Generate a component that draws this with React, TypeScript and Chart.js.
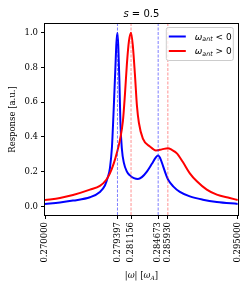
import React, { useEffect, useRef } from "react";
import { Chart, registerables } from "chart.js";

Chart.register(...registerables);

// |omega| in units of omega_A, and normalised response
const omegaBlue = [
  0.27, 0.27194, 0.27363, 0.27583, 0.27712, 0.27777, 0.27816, 0.27842, 0.27868, 0.27887,
  0.279, 0.27913, 0.27926, 0.279397, 0.27952, 0.27965, 0.27978, 0.27997, 0.28023, 0.28062,
  0.28101, 0.28153, 0.28205, 0.28256, 0.28321, 0.28386, 0.28438, 0.284673, 0.28496, 0.28532,
  0.28567, 0.28597, 0.28662, 0.28749, 0.28878, 0.29047, 0.29228, 0.295,
];
const responseBlue = [
  0.014, 0.022, 0.033, 0.052, 0.083, 0.12, 0.17, 0.22, 0.34, 0.52,
  0.66, 0.8, 0.94, 1.0, 0.9, 0.72, 0.48, 0.33, 0.25, 0.2,
  0.178, 0.162, 0.157, 0.168, 0.2, 0.245, 0.282, 0.293, 0.275, 0.23,
  0.185, 0.153, 0.115, 0.083, 0.057, 0.038, 0.025, 0.014,
];
const omegaRed = [
  0.27, 0.27194, 0.27363, 0.27583, 0.27712, 0.2779, 0.27842, 0.27894, 0.27933, 0.27971,
  0.2801, 0.28036, 0.28062, 0.28088, 0.281156, 0.2814, 0.28166, 0.28192, 0.28218, 0.28269,
  0.2836, 0.28438, 0.28515, 0.28593, 0.28645, 0.2871, 0.28788, 0.28878, 0.28969, 0.29098,
  0.29228, 0.29396, 0.295,
];
const responseRed = [
  0.036, 0.048, 0.065, 0.096, 0.118, 0.15, 0.19, 0.25, 0.31, 0.38,
  0.49, 0.64, 0.82, 0.95, 1.0, 0.92, 0.76, 0.58, 0.48, 0.39,
  0.345, 0.322, 0.328, 0.335, 0.325, 0.305, 0.255, 0.19, 0.144, 0.096,
  0.067, 0.048, 0.036,
];
const peaksBlue = [0.279397, 0.284673];
const peaksRed = [0.281156, 0.28593];
const xTickValues = [0.27, 0.279397, 0.281156, 0.284673, 0.28593, 0.295];
const yTickValues = [0, 0.2, 0.4, 0.6, 0.8, 1.0];
const xRange = [0.27, 0.295];
const yRange = [-0.05, 1.05];

const SERIF = '"DejaVu Serif", serif';
const SANS = '"DejaVu Sans", sans-serif';

function drawRich(ctx: CanvasRenderingContext2D, parts: { t: string; f: string; dy?: number }[], x: number, y: number, align: "left" | "center") {
  let w = 0;
  for (const p of parts) { ctx.font = p.f; w += ctx.measureText(p.t).width; }
  let cx = align === "center" ? x - w / 2 : x;
  ctx.textAlign = "left";
  for (const p of parts) {
    ctx.font = p.f;
    ctx.fillText(p.t, cx, y + (p.dy || 0));
    cx += ctx.measureText(p.t).width;
  }
}

const decor = {
  id: "decor",
  afterDraw(chart: any) {
    const { ctx, chartArea: a } = chart;
    ctx.save();
    // frame
    ctx.strokeStyle = "#000";
    ctx.lineWidth = 1;
    ctx.strokeRect(Math.round(a.left) - 0.5, Math.round(a.top) - 0.5, Math.round(a.right - a.left) + 1, Math.round(a.bottom - a.top) + 1);
    ctx.fillStyle = "#000";
    ctx.textBaseline = "alphabetic";
    const cx = (a.left + a.right) / 2;
    // title
    drawRich(ctx, [
      { t: "s", f: `italic 10px ${SANS}` },
      { t: " = 0.5", f: `10px ${SANS}` },
    ], cx, a.top - 7, "center");
    // x label
    drawRich(ctx, [
      { t: "|", f: `8.5px ${SERIF}` },
      { t: "ω", f: `italic 8.5px ${SERIF}` },
      { t: "| [", f: `8.5px ${SERIF}` },
      { t: "ω", f: `italic 8.5px ${SERIF}` },
      { t: "A", f: `italic 6px ${SERIF}`, dy: 1.5 },
      { t: "]", f: `8.5px ${SERIF}` },
    ], cx, 278, "center");
    // y label
    ctx.save();
    ctx.translate(15, (a.top + a.bottom) / 2);
    ctx.rotate(-Math.PI / 2);
    ctx.font = `8.5px ${SERIF}`;
    ctx.textAlign = "center";
    ctx.fillText("Response [a.u.]", 0, 0);
    ctx.restore();
    // legend
    const bx = a.right - 72, by = a.top + 3, bw = 67, bh = 33;
    ctx.fillStyle = "rgba(255,255,255,0.8)";
    ctx.strokeStyle = "#cccccc";
    ctx.lineWidth = 1;
    ctx.beginPath();
    (ctx as any).roundRect(bx + 0.5, by + 0.5, bw, bh, 2);
    ctx.fill();
    ctx.stroke();
    const rows = [
      { c: "#0000ff", s: "<" },
      { c: "#ff0000", s: ">" },
    ];
    rows.forEach((r, i) => {
      const ly = by + 9.5 + i * 14.5;
      ctx.strokeStyle = r.c;
      ctx.lineWidth = 2;
      ctx.beginPath();
      ctx.moveTo(bx + 3, ly);
      ctx.lineTo(bx + 20, ly);
      ctx.stroke();
      ctx.fillStyle = "#000";
      drawRich(ctx, [
        { t: "ω", f: `italic 9px ${SANS}` },
        { t: "ant", f: `italic 6.3px ${SANS}`, dy: 1.5 },
        { t: ` ${r.s} 0`, f: `9px ${SANS}` },
      ], bx + 29, ly + 3, "left");
    });
    ctx.restore();
  },
};

function vline(x: number, color: string) {
  return {
    data: [{ x, y: yRange[0] }, { x, y: yRange[1] }],
    borderColor: color,
    borderWidth: 1,
    borderDash: [3, 1.5],
    pointRadius: 0,
    showLine: true,
    fill: false,
  };
}

export default function App() {
  const ref = useRef<HTMLCanvasElement>(null);
  useEffect(() => {
    document.body.style.margin = "0";
    const canvas = ref.current!;
    const datasets: any[] = [
      ...peaksBlue.map((p) => vline(p, "rgba(40,40,255,0.6)")),
      ...peaksRed.map((p) => vline(p, "rgba(255,40,40,0.5)")),
      {
        data: omegaRed.map((x, i) => ({ x, y: responseRed[i] })),
        borderColor: "#ff0000",
        borderWidth: 2,
        pointRadius: 0,
        cubicInterpolationMode: "monotone",
        fill: false,
      },
      {
        data: omegaBlue.map((x, i) => ({ x, y: responseBlue[i] })),
        borderColor: "#0000ff",
        borderWidth: 2,
        pointRadius: 0,
        cubicInterpolationMode: "monotone",
        fill: false,
      },
    ];
    const chart = new Chart(canvas, {
      type: "line",
      data: { datasets },
      options: {
        animation: false,
        responsive: false,
        events: [],
        layout: { padding: { top: 24, right: 13, left: 0, bottom: 0 } },
        plugins: { legend: { display: false }, tooltip: { enabled: false }, title: { display: false } },
        scales: {
          x: {
            type: "linear",
            min: xRange[0],
            max: xRange[1],
            afterBuildTicks: (s: any) => { s.ticks = xTickValues.map((v) => ({ value: v })); },
            afterFit: (s: any) => { s.height = 75; },
            grid: { drawOnChartArea: false, drawTicks: true, tickLength: 4, color: "#000", tickWidth: 1 },
            border: { display: false },
            ticks: {
              autoSkip: false,
              minRotation: 90,
              maxRotation: 90,
              padding: 3,
              color: "#000",
              font: { family: SERIF, size: 8.5 },
              callback: (v: any) => Number(v).toFixed(6),
            },
          },
          y: {
            type: "linear",
            min: yRange[0],
            max: yRange[1],
            afterBuildTicks: (s: any) => { s.ticks = yTickValues.map((v) => ({ value: v })); },
            afterFit: (s: any) => { s.width = 45; },
            grid: { drawOnChartArea: false, drawTicks: true, tickLength: 4, color: "#000", tickWidth: 1 },
            border: { display: false },
            ticks: {
              padding: 3,
              color: "#000",
              font: { family: SERIF, size: 8.5 },
              callback: (v: any) => Number(v).toFixed(1),
            },
          },
        },
      },
      plugins: [decor],
    } as any);
    return () => chart.destroy();
  }, []);
  return <canvas ref={ref} width={251} height={290} style={{ display: "block" }} />;
}
